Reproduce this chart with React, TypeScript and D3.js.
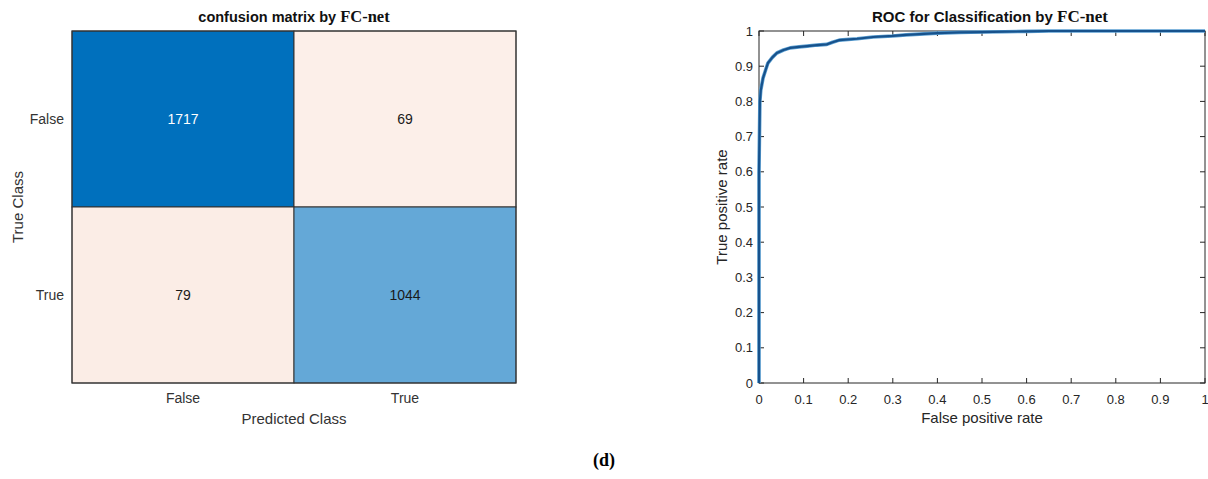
import * as d3 from "d3";

const W = 1208;
const H = 479;

// confusion matrix (rows = true class, cols = predicted class)
const CLASSES = ["False", "True"];
const COUNTS = [
  [1717, 69],
  [79, 1044],
];

// ROC curve points
const FPR = [0, 0, 0.002, 0.004, 0.009, 0.015, 0.02, 0.03, 0.04, 0.055, 0.07, 0.09, 0.108, 0.13, 0.152, 0.165, 0.18, 0.22, 0.256, 0.3, 0.33, 0.4, 0.45, 0.5, 0.55, 0.6, 0.65, 0.7, 0.8, 0.9, 1];
const TPR = [0, 0.6, 0.8, 0.832, 0.866, 0.89, 0.909, 0.925, 0.9375, 0.946, 0.952, 0.955, 0.957, 0.96, 0.962, 0.968, 0.974, 0.978, 0.983, 0.986, 0.989, 0.994, 0.996, 0.997, 0.998, 0.999, 1, 1, 1, 1, 1];
const ROC_TICKS = [0, 0.1, 0.2, 0.3, 0.4, 0.5, 0.6, 0.7, 0.8, 0.9, 1];

const SANS = "'Liberation Sans', Arial, sans-serif";
const SERIF = "'Liberation Serif', 'Times New Roman', serif";
const AXIS = "#262626";

const CM = { left: 72, right: 516, top: 31, bottom: 383 };
const ROC = { left: 759, right: 1205, top: 31, bottom: 383 };

function ConfusionMatrix() {
  const x = d3.scaleBand<string>().domain(CLASSES).range([CM.left, CM.right]);
  const y = d3.scaleBand<string>().domain(CLASSES).range([CM.top, CM.bottom]);
  const all = COUNTS.flat();
  const diag = d3.scaleLinear<string>().domain([0, d3.max(all)!]).range(["#ffffff", "#0070BD"]);
  const offMax = d3.max(COUNTS.flatMap((r, i) => r.filter((_, j) => j !== i)))!;
  const off = d3.scaleLinear<string>().domain([0, offMax]).range(["#ffffff", "#fbede6"]);
  const cx = (CM.left + CM.right) / 2;

  return (
    <g>
      <text x={cx} y={22} textAnchor="middle" fontFamily={SANS} fontWeight="bold" fontSize={14.5} fill="#111">
        confusion matrix by <tspan fontFamily={SERIF} fontSize={16.5}>FC-net</tspan>
      </text>
      {COUNTS.map((row, i) =>
        row.map((v, j) => {
          const fill = i === j ? diag(v) : off(v);
          const dark = i === j && v / d3.max(all)! > 0.8;
          return (
            <g key={`${i}-${j}`}>
              <rect x={x(CLASSES[j])} y={y(CLASSES[i])} width={x.bandwidth()} height={y.bandwidth()} fill={fill} stroke="#333" strokeWidth={1} />
              <text
                x={x(CLASSES[j])! + x.bandwidth() / 2}
                y={y(CLASSES[i])! + y.bandwidth() / 2}
                dy="0.35em"
                textAnchor="middle"
                fontFamily={SANS}
                fontSize={14}
                fill={dark ? "#ffffff" : "#1a1a1a"}
              >
                {v}
              </text>
            </g>
          );
        }),
      )}
      <rect x={CM.left} y={CM.top} width={CM.right - CM.left} height={CM.bottom - CM.top} fill="none" stroke="#333" strokeWidth={1} />
      {CLASSES.map((c) => (
        <text key={`yl-${c}`} x={CM.left - 8} y={y(c)! + y.bandwidth() / 2} dy="0.35em" textAnchor="end" fontFamily={SANS} fontSize={14} fill="#333">
          {c}
        </text>
      ))}
      {CLASSES.map((c) => (
        <text key={`xl-${c}`} x={x(c)! + x.bandwidth() / 2} y={398} dy="0.35em" textAnchor="middle" fontFamily={SANS} fontSize={14} fill="#333">
          {c}
        </text>
      ))}
      <text x={cx} y={419} dy="0.35em" textAnchor="middle" fontFamily={SANS} fontSize={15} fill="#333">
        Predicted Class
      </text>
      <text transform={`translate(18,${(CM.top + CM.bottom) / 2}) rotate(-90)`} dy="0.35em" textAnchor="middle" fontFamily={SANS} fontSize={15} fill="#333">
        True Class
      </text>
    </g>
  );
}

function RocPlot() {
  const x = d3.scaleLinear().domain([0, 1]).range([ROC.left, ROC.right]);
  const y = d3.scaleLinear().domain([0, 1]).range([ROC.bottom, ROC.top]);
  const pts = FPR.map((f, i) => [f, TPR[i]] as [number, number]);
  const line = d3
    .line<[number, number]>()
    .x((d) => x(d[0]))
    .y((d) => y(d[1]));
  const d = line(pts) ?? "";
  const tl = 5;
  const fmt = (v: number) => (v === 0 || v === 1 ? String(v) : v.toFixed(1));

  return (
    <g>
      <text x={(ROC.left + ROC.right) / 2 + 8} y={22} textAnchor="middle" fontFamily={SANS} fontWeight="bold" fontSize={15} fill="#111">
        ROC for Classification by <tspan fontFamily={SERIF} fontSize={17}>FC-net</tspan>
      </text>
      <rect x={ROC.left} y={ROC.top} width={ROC.right - ROC.left} height={ROC.bottom - ROC.top} fill="#fff" stroke={AXIS} strokeWidth={1} />
      {ROC_TICKS.map((t) => (
        <g key={`xt-${t}`}>
          <line x1={x(t)} x2={x(t)} y1={ROC.bottom} y2={ROC.bottom - tl} stroke={AXIS} />
          <line x1={x(t)} x2={x(t)} y1={ROC.top} y2={ROC.top + tl} stroke={AXIS} />
          <text x={x(t)} y={399} dy="0.35em" textAnchor="middle" fontFamily={SANS} fontSize={13} fill={AXIS}>
            {fmt(t)}
          </text>
        </g>
      ))}
      {ROC_TICKS.map((t) => (
        <g key={`yt-${t}`}>
          <line x1={ROC.left} x2={ROC.left + tl} y1={y(t)} y2={y(t)} stroke={AXIS} />
          <line x1={ROC.right} x2={ROC.right - tl} y1={y(t)} y2={y(t)} stroke={AXIS} />
          <text x={ROC.left - 6} y={y(t)} dy="0.35em" textAnchor="end" fontFamily={SANS} fontSize={13} fill={AXIS}>
            {fmt(t)}
          </text>
        </g>
      ))}
      <path d={d} fill="none" stroke="#5b9fd2" strokeWidth={3.6} strokeLinejoin="round" />
      <path d={d} fill="none" stroke="#17528c" strokeWidth={2.2} strokeLinejoin="round" />
      <text x={(ROC.left + ROC.right) / 2} y={418} dy="0.35em" textAnchor="middle" fontFamily={SANS} fontSize={15} fill={AXIS}>
        False positive rate
      </text>
      <text transform={`translate(722,${(ROC.top + ROC.bottom) / 2}) rotate(-90)`} dy="0.35em" textAnchor="middle" fontFamily={SANS} fontSize={15} fill={AXIS}>
        True positive rate
      </text>
    </g>
  );
}

export default function App() {
  return (
    <svg width={W} height={H} viewBox={`0 0 ${W} ${H}`} style={{ position: "absolute", left: 0, top: 0, background: "#fff" }}>
      <rect width={W} height={H} fill="#fff" />
      <ConfusionMatrix />
      <RocPlot />
      <text x={604} y={466} textAnchor="middle" fontFamily={SERIF} fontWeight="bold" fontSize={18} fill="#000">
        (d)
      </text>
    </svg>
  );
}
